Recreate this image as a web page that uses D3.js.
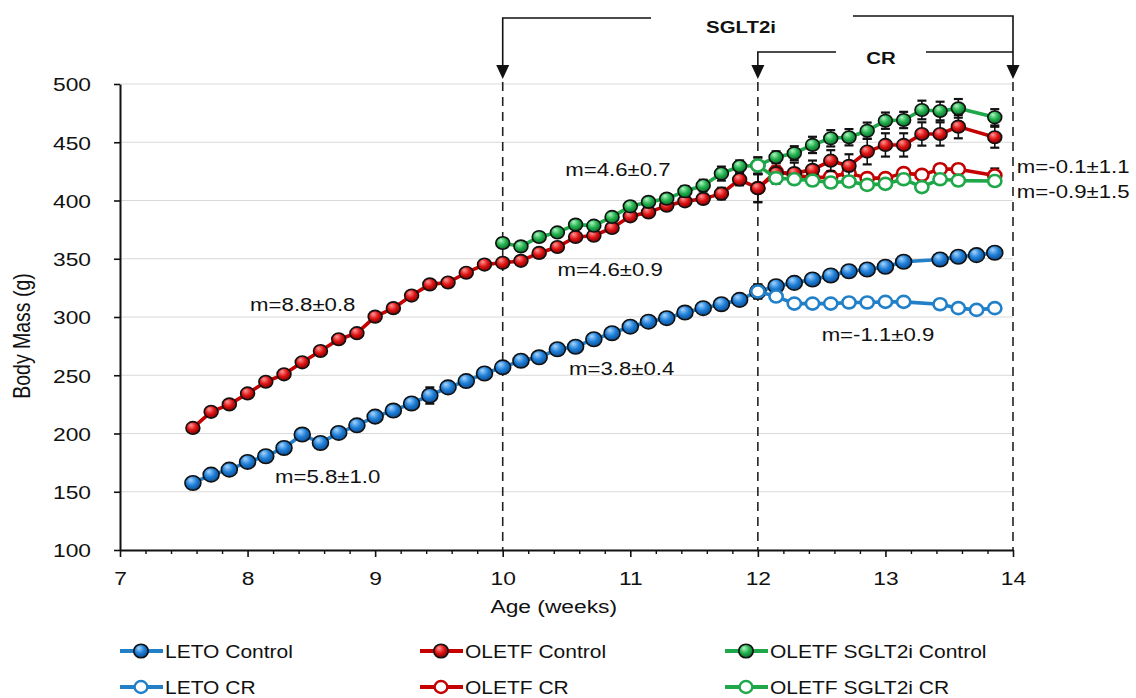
<!DOCTYPE html>
<html><head><meta charset="utf-8">
<script src="https://cdn.jsdelivr.net/npm/d3@7"></script>
<style>
body{margin:0;background:#fff}
svg{display:block}
text{font-family:"Liberation Sans",Arial,Helvetica,sans-serif;fill:#111}
</style>
</head><body>
<svg id="c" width="1136" height="698"></svg>
<script>
// ---------------- DATA ----------------
const xTickLabels = [7, 8, 9, 10, 11, 12, 13, 14];
const yTickLabels = [100, 150, 200, 250, 300, 350, 400, 450, 500];
const seriesNames = ["LETO Control", "OLETF Control", "OLETF SGLT2i Control", "LETO CR", "OLETF CR", "OLETF SGLT2i CR"];

// age in days (x = days / 7 weeks)
const letoCtrlDays = [53,54,55,56,57,58,59,60,61,62,63,64,65,66,67,68,69,70,71,72,73,74,75,76,77,78,79,80,81,82,83,84,85,86,87,88,89,90,91,92,94,95,96,97];
const letoCtrlMass = [157.5,164.7,169,175.6,180.5,187.6,199.1,191.9,200.5,207,214.5,219.7,225.8,232.6,239.6,245,251.5,256.8,262.5,265.4,272.3,274.5,280.9,286.1,291.7,296,299,303.8,307.6,311,314.7,321.9,326.4,329.3,332.2,335.6,339.3,340.8,343.1,347.4,349.4,351.7,353.1,355.2];
const letoCtrlErr  = [2.5,2.5,2.5,2.5,2.5,2.5,2.5,2.5,2.5,2.5,2.5,2.5,2.5,7,2.5,2.5,2.5,2.5,2.5,2.5,2.5,2.5,2.5,2.5,2.5,2.5,2.5,2.5,2.5,2.5,2.5,6,3,3,3,3,3,3,3,3,3,3,3,3];

const letoCrDays = [84,85,86,87,88,89,90,91,92,94,95,96,97];
const letoCrMass = [321.9,317.6,311.5,311.5,311.5,312.5,312.5,313,313,311,307.6,306.1,307.6];
const letoCrErr  = [6,3,3.5,3,3,3,3,3,3,3,3,3,3];

const oletfCtrlDays = [53,54,55,56,57,58,59,60,61,62,63,64,65,66,67,68,69,70,71,72,73,74,75,76,77,78,79,80,81,82,83,84,85,86,87,88,89,90,91,92,93,94,95,97];
const oletfCtrlMass = [204.8,218.6,225,234.4,244.4,250.8,261.1,270.8,280.9,286.1,300.3,307.6,318.4,328,329.6,338,345,346.5,348.2,355,360.1,368.7,369.8,376.4,386.4,389.8,395.6,399.3,401.4,405.9,418,410.6,423.5,423.5,426.3,434.2,429.7,442,447.7,447.7,457.1,457.1,463.4,454.3];
const oletfCtrlErr  = [2.5,2.5,2.5,2.5,2.5,2.5,2.5,2.5,2.5,2.5,2.5,2.5,2.5,2.5,2.5,2.5,2.5,3.5,3.5,4,3.5,3.5,3.5,3.5,3.5,3.5,3.5,3.5,3.5,5,5,12,9,9,8,9,10,11,10,10,10,10,10,9];

const oletfCrDays = [84,85,86,87,88,89,90,91,92,93,94,95,97];
const oletfCrMass = [410.6,424.8,422,419.2,420.5,423.5,419.2,419.2,423.5,422,426.9,426.9,421.5];
const oletfCrErr  = [12,5,5,4,4,4,4,4,4,4,4,4,6];

const sgltCtrlDays = [70,71,72,73,74,75,76,77,78,79,80,81,82,83,84,85,86,87,88,89,90,91,92,93,94,95,97];
const sgltCtrlMass = [363.5,360.6,368.7,372.6,379.3,378.4,385.9,395,398.8,401.6,407.9,412.8,423.1,429.4,430,437.2,440.6,447.7,453.4,454.3,459.9,468.5,469.1,477.7,476.8,479.1,471.4];
const sgltCtrlErr  = [4,3.5,3.5,3.5,3.5,3.5,3.5,3.5,3.5,3.5,4.5,5,6,5,7,5,6,7,7,7,7,7,7,8,8,8,7];

const sgltCrDays = [84,85,86,87,88,89,90,91,92,93,94,95,97];
const sgltCrMass = [430,419.2,418.3,417.1,415.4,416.3,413.4,414.3,418.3,411.5,418.3,417.1,416.7];
const sgltCrErr  = [7,4,4,4,4,4,4,4,4,4,4,4,4];

// slope annotations: [text, age (weeks), mass (g)] for the left/baseline of the label
const slopeLabels = [
  ["m=8.8±0.8", 8.02, 305.2],
  ["m=5.8±1.0", 8.215, 157.5],
  ["m=4.6±0.7", 10.49, 421],
  ["m=4.6±0.9", 10.43, 335.2],
  ["m=3.8±0.4", 10.52, 250.2],
  ["m=-1.1±0.9", 12.50, 279.4],
  ["m=-0.1±1.1", 14.03, 423.6],
  ["m=-0.9±1.5", 14.03, 402.1]
];

// ---------------- STYLE / LAYOUT ----------------
const SX = 1.2; // horizontal stretch of the original raster
const colors = {blue:"#2180c8", red:"#c40000", green:"#1ea84a"};
const svg = d3.select("#c");
const x = d3.scaleLinear().domain([7, 14]).range([120, 1013]);
const y = d3.scaleLinear().domain([100, 500]).range([550, 84]);

const defs = svg.append("defs");
function grad(id, light, base, dark){
  const g = defs.append("radialGradient").attr("id", id)
    .attr("cx","45%").attr("cy","40%").attr("r","60%").attr("fx","35%").attr("fy","28%");
  g.append("stop").attr("offset","0%").attr("stop-color", light);
  g.append("stop").attr("offset","55%").attr("stop-color", base);
  g.append("stop").attr("offset","100%").attr("stop-color", dark);
}
grad("gBlue", "#a9d6ff", "#1f80d8", "#0b4c93");
grad("gRed", "#ff9a9a", "#e01414", "#7d0000");
grad("gGreen", "#b4f5c4", "#22b24e", "#0c6a2b");

function txt(g, px, py, s, size, anchor, weight){
  return g.append("text")
    .attr("transform", `translate(${px},${py}) scale(${SX},1)`)
    .attr("text-anchor", anchor || "start")
    .style("font-size", size + "px")
    .style("font-weight", weight || "normal")
    .text(s);
}

// gridlines
svg.append("g").selectAll("line").data(yTickLabels.filter(v => v > 100)).join("line")
  .attr("x1", x(7)).attr("x2", x(14))
  .attr("y1", d => y(d)).attr("y2", d => y(d))
  .attr("stroke", "#d9d9d9").attr("stroke-width", 1.2);

// dashed vertical lines at weeks 10, 12, 14
const treatWeeks = [10, 12, 14];
svg.append("g").selectAll("line").data(treatWeeks).join("line")
  .attr("x1", d => x(d)).attr("x2", d => x(d))
  .attr("y1", 82).attr("y2", y(100))
  .attr("stroke", "#222").attr("stroke-width", 1.6).attr("stroke-dasharray", "9,6");

// axes
const yAxis = svg.append("g").attr("transform", `translate(${x(7)},0)`)
  .call(d3.axisLeft(y).tickValues(yTickLabels).tickSize(6).tickSizeOuter(0).tickFormat(d3.format("d")));
yAxis.select(".domain").attr("stroke", "#111").attr("stroke-width", 2);
yAxis.selectAll(".tick line").attr("stroke", "#111").attr("stroke-width", 1.6);
yAxis.selectAll(".tick text").attr("x", 0).attr("dy", "0.36em")
  .attr("transform", `translate(-29,0) scale(${SX},1)`)
  .style("font-size", "19px").style("font-family", '"Liberation Sans",Arial,sans-serif').attr("fill", "#111");

const minorTicks = d3.range(0, 36).map(i => 7 + i * 0.2).filter(v => Math.abs(v - Math.round(v)) > 1e-6);
const xMinor = svg.append("g").attr("transform", `translate(0,${y(100)})`)
  .call(d3.axisBottom(x).tickValues(minorTicks).tickSize(4).tickFormat(""));
xMinor.select(".domain").remove();
xMinor.selectAll(".tick line").attr("stroke", "#111").attr("stroke-width", 1.4);

const xAxis = svg.append("g").attr("transform", `translate(0,${y(100)})`)
  .call(d3.axisBottom(x).tickValues(xTickLabels).tickSize(7).tickSizeOuter(0).tickFormat(d3.format("d")));
xAxis.select(".domain").attr("stroke", "#111").attr("stroke-width", 2);
xAxis.selectAll(".tick line").attr("stroke", "#111").attr("stroke-width", 1.6);
xAxis.selectAll(".tick text").attr("y", 0).attr("dy", 0)
  .attr("transform", `translate(0,35) scale(${SX},1)`)
  .style("font-size", "19px").style("font-family", '"Liberation Sans",Arial,sans-serif').attr("fill", "#111");

// axis titles
txt(svg, x(10.4), 613, "Age (weeks)", 19, "middle");
svg.append("text").attr("transform", `translate(30,336) rotate(-90) scale(1,${SX})`)
  .attr("text-anchor", "middle").style("font-size", "19.5px").text("Body Mass (g)");

// ---------------- SERIES ----------------
function mk(days, mass, err){ return days.map((d, i) => ({wk: d / 7, v: mass[i], e: err[i]})); }
const series = [
  {name: seriesNames[0], data: mk(letoCtrlDays, letoCtrlMass, letoCtrlErr), color: colors.blue, fill: "url(#gBlue)", open: false, r: 7.6},
  {name: seriesNames[3], data: mk(letoCrDays, letoCrMass, letoCrErr), color: colors.blue, fill: "#fff", open: true, r: 6.3},
  {name: seriesNames[4], data: mk(oletfCrDays, oletfCrMass, oletfCrErr), color: colors.red, fill: "#fff", open: true, r: 6.3},
  {name: seriesNames[1], data: mk(oletfCtrlDays, oletfCtrlMass, oletfCtrlErr), color: colors.red, fill: "url(#gRed)", open: false, r: 6.6},
  {name: seriesNames[2], data: mk(sgltCtrlDays, sgltCtrlMass, sgltCtrlErr), color: colors.green, fill: "url(#gGreen)", open: false, r: 6.6},
  {name: seriesNames[5], data: mk(sgltCrDays, sgltCrMass, sgltCrErr), color: colors.green, fill: "#fff", open: true, r: 6.3}
];

const line = d3.line().x(d => x(d.wk)).y(d => y(d.v));
series.forEach(s => {
  const g = svg.append("g");
  g.append("path").datum(s.data).attr("d", line)
    .attr("fill", "none").attr("stroke", s.color).attr("stroke-width", 3.6).attr("stroke-linejoin", "round");
  const eb = g.append("g").selectAll("g").data(s.data).join("g");
  eb.append("line").attr("x1", d => x(d.wk)).attr("x2", d => x(d.wk))
    .attr("y1", d => y(d.v - d.e)).attr("y2", d => y(d.v + d.e)).attr("stroke", "#111").attr("stroke-width", 1.6);
  [-1, 1].forEach(sg => eb.append("line")
    .attr("x1", d => x(d.wk) - 4.5).attr("x2", d => x(d.wk) + 4.5)
    .attr("y1", d => y(d.v + sg * d.e)).attr("y2", d => y(d.v + sg * d.e))
    .attr("stroke", "#111").attr("stroke-width", 2.2));
  g.append("g").selectAll("ellipse").data(s.data).join("ellipse")
    .attr("cx", d => x(d.wk)).attr("cy", d => y(d.v))
    .attr("rx", s.r * 1.05).attr("ry", s.r * 0.95)
    .attr("fill", s.fill)
    .attr("stroke", s.open ? s.color : "#111")
    .attr("stroke-width", s.open ? 2.6 : 1.6);
});

// slope labels
slopeLabels.forEach(([t, wk, v]) => txt(svg, x(wk), y(v), t, 18.5, "start"));

// ---------------- TREATMENT BRACKETS ----------------
const br = svg.append("g").attr("stroke", "#111").attr("stroke-width", 1.6).attr("fill", "none");
const arrowTip = 79, arrowH = 14, arrowW = 6.5;
function arrow(px){
  svg.append("path").attr("d", `M${px - arrowW},${arrowTip - arrowH} L${px + arrowW},${arrowTip - arrowH} L${px},${arrowTip} Z`).attr("fill", "#111");
}
// SGLT2i
br.append("path").attr("d", `M${x(10)},${arrowTip - arrowH + 1} V18 H651`);
br.append("path").attr("d", `M853,16 H${x(14)} V${arrowTip - arrowH + 1}`);
// CR
br.append("path").attr("d", `M${x(12)},${arrowTip - arrowH + 1} V52 H836`);
br.append("path").attr("d", `M926,52 H${x(14)}`);
treatWeeks.forEach(w => arrow(x(w)));
txt(svg, 741, 33, "SGLT2i", 17, "middle", "bold");
txt(svg, 881, 64, "CR", 17, "middle", "bold");

// ---------------- LEGEND ----------------
const legendItems = [
  {s: series[0], col: 120, row: 0},
  {s: series[3], col: 420, row: 0},
  {s: series[4], col: 725, row: 0},
  {s: series[1], col: 120, row: 1},
  {s: series[2], col: 420, row: 1},
  {s: series[5], col: 725, row: 1}
];
legendItems.forEach(({s, col, row}) => {
  const cy = 651 + row * 36;
  svg.append("line").attr("x1", col).attr("x2", col + 43).attr("y1", cy).attr("y2", cy)
    .attr("stroke", s.color).attr("stroke-width", 4.2);
  svg.append("ellipse").attr("cx", col + 21).attr("cy", cy).attr("rx", s.open ? 6.4 : 7.2).attr("ry", s.open ? 6 : 6.8)
    .attr("fill", s.fill).attr("stroke", s.open ? s.color : "#111").attr("stroke-width", s.open ? 2.4 : 1.6);
  txt(svg, col + 45, cy + 6.5, s.name, 17.5, "start");
});
</script>
</body></html>
